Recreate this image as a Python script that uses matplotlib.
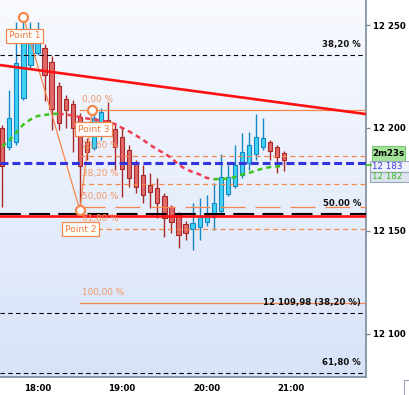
import numpy as np
import pandas as pd
import matplotlib
matplotlib.use("Agg")
import matplotlib.pyplot as plt
from matplotlib.colors import LinearSegmentedColormap
from matplotlib.patches import Rectangle
from matplotlib.transforms import blended_transform_factory

W, H = 409, 395

# 5 minute bars starting 17:35
START = "2024-01-01 17:35"
opens = [12200.0, 12190.7, 12193.2, 12214.5, 12230.6, 12236.4, 12238.8, 12232.0, 12220.4, 12214.0,
         12211.6, 12205.3, 12193.2, 12190.2, 12196.6, 12203.8, 12199.5, 12195.6, 12189.3, 12182.5,
         12177.1, 12172.3, 12170.8, 12166.9, 12161.6, 12157.7, 12153.3, 12150.9, 12151.9, 12154.3,
         12156.7, 12159.6, 12167.9, 12171.8, 12177.1, 12183.0, 12187.3, 12190.7, 12193.2, 12190.7,
         12187.8]
highs = [12201.4, 12218.4, 12251.5, 12253.9, 12251.5, 12251.5, 12240.8, 12234.9, 12222.3, 12216.0,
         12213.6, 12207.2, 12195.1, 12208.7, 12209.7, 12212.6, 12202.4, 12200.4, 12191.7, 12184.4,
         12182.0, 12178.1, 12175.7, 12168.4, 12162.5, 12159.1, 12154.8, 12163.5, 12165.9, 12167.4,
         12173.2, 12187.3, 12182.0, 12191.7, 12197.5, 12198.0, 12206.8, 12204.8, 12194.1, 12191.7,
         12188.8]
lows = [12161.6, 12189.3, 12191.7, 12213.6, 12229.1, 12235.4, 12213.1, 12199.0, 12199.0, 12200.0,
        12188.3, 12160.1, 12184.4, 12189.3, 12194.1, 12197.5, 12179.5, 12166.4, 12171.3, 12168.4,
        12163.5, 12161.1, 12156.2, 12147.0, 12148.9, 12141.6, 12145.5, 12140.7, 12145.5, 12152.3,
        12150.4, 12158.7, 12166.9, 12170.8, 12175.7, 12179.5, 12184.4, 12189.3, 12184.4, 12178.1,
        12179.1]
closes = [12181.5, 12204.8, 12231.5, 12245.1, 12242.7, 12246.6, 12225.7, 12209.2, 12202.4, 12208.7,
          12200.0, 12181.5, 12188.3, 12204.8, 12207.7, 12200.0, 12190.7, 12180.0, 12175.7, 12171.3,
          12167.4, 12168.9, 12163.5, 12156.2, 12154.3, 12148.0, 12148.9, 12153.8, 12157.2, 12157.7,
          12163.5, 12176.2, 12176.2, 12182.0, 12188.3, 12191.7, 12195.6, 12195.1, 12188.8, 12185.9,
          12184.4]
# moving average on the same bars
ma = [12191.0, 12193.9, 12197.8, 12201.7, 12204.1, 12205.8, 12206.3, 12206.8, 12206.9, 12206.5,
      12206.0, 12205.3, 12204.6, 12204.1, 12203.6, 12202.9, 12201.9, 12200.0, 12198.3, 12196.3,
      12194.1, 12191.7, 12189.5, 12187.6, 12185.4, 12182.2, 12180.0, 12178.6, 12177.4, 12175.7,
      12175.1, 12175.2, 12175.4, 12176.2, 12177.4, 12178.1, 12179.3, 12180.3, 12181.0, 12181.3,
      12181.5]

# fibonacci points
point_names = ["Point 1", "Point 2", "Point 3"]
point_times = ["17:50", "18:30", "18:39"]
point_prices = [12253.9, 12160.1, 12208.7]
fib_ratios = [0.0, 0.236, 0.382, 0.5, 0.618, 1.0]
fib_labels = ["0,00 %", "23,60 %", "38,20 %", "50,00 %", "61,80 %", "100,00 %"]

# other horizontal levels
black_levels = [12235.4, 12158.2, 12109.98, 12080.9]
black_labels = ["38,20 %", "50.00 %", "12 109,98 (38,20 %)", "61,80 %"]
support_level = 12157.2
bid_level = 12183.0
trend_times = ["17:35", "21:50"]
trend_prices = [12230.4, 12207.0]

time_ticks = ["18:00", "19:00", "20:00", "21:00"]
price_ticks = [12100, 12150, 12200, 12250]

ORANGE = "#f4874b"
ORANGE_TXT = "#f39a68"
RED_FACE, RED_EDGE = "#e06868", "#a82828"
CYAN_FACE, CYAN_EDGE = "#3fd2f2", "#1687c6"
AXIS = "#7a8ba0"

plt.rcParams["font.family"] = "DejaVu Sans"


def hours(s):
    h, m = s.split(":")
    return int(h) + int(m) / 60


t = pd.date_range(START, periods=len(opens), freq="5min")
t = np.array(t.hour + t.minute / 60.0)
o, hi, lo, c = map(np.array, (opens, highs, lows, closes))

fig = plt.figure(figsize=(W / 100, H / 100), dpi=100)
ax = fig.add_axes([0, 18 / H, 366 / W, 377 / H])
x0, x1 = 17.5567, 21.883
y0, y1 = 12079.0, 12262.15

# background gradient
cm = LinearSegmentedColormap.from_list("bg", ["#f8faff", "#d8e3f8"])
ax.imshow(np.linspace(0, 1, 256).reshape(-1, 1), extent=(x0, x1, y0, y1),
          aspect="auto", cmap=cm, zorder=0, interpolation="bicubic")

# candles
up = c >= o
wick_col = np.where(up, CYAN_EDGE, RED_EDGE)
ax.vlines(t, lo, hi, colors=wick_col, lw=1.0, zorder=2)
ax.bar(t[up], (c - o)[up], bottom=o[up], width=0.05, color=CYAN_FACE,
       edgecolor=CYAN_EDGE, linewidth=0.8, zorder=3)
ax.bar(t[~up], (o - c)[~up], bottom=c[~up], width=0.05, color=RED_FACE,
       edgecolor=RED_EDGE, linewidth=0.8, zorder=3)

# moving average, green rising / red falling
ma = np.array(ma)
rising = np.diff(ma) >= 0
i = 0
while i < len(rising):
    j = i
    while j + 1 < len(rising) and rising[j + 1] == rising[i]:
        j += 1
    ax.plot(t[i:j + 2], ma[i:j + 2], color="#3ec41e" if rising[i] else "#f03c50",
            lw=1.8, dashes=(2, 1.6), zorder=5)
    i = j + 1

# black levels
trans = blended_transform_factory(ax.transAxes, ax.transData)
for lvl, lab in zip(black_levels, black_labels):
    if lab.startswith("50"):
        ax.axhline(lvl, color="black", lw=1.5, dashes=(10, 4), zorder=4)
    else:
        ax.axhline(lvl, color="black", lw=0.8, dashes=(4, 3), zorder=4)
    ax.annotate(lab, xy=(1, lvl), xycoords=trans, xytext=(-5, 10.5),
                textcoords="offset pixels", ha="right", va="center",
                fontsize=6.2, fontweight="bold", color="#111111", zorder=9)

# fibonacci extension
pt = [hours(s) for s in point_times]
p1, p2, p3 = point_prices
for r, lab in zip(fib_ratios, fib_labels):
    lvl = p3 - r * (p1 - p2)
    if r in (0.0, 1.0):
        style = dict(ls="-")
    elif r == 0.5:
        style = dict(dashes=(20, 8))
    else:
        style = dict(dashes=(4, 3))
    ax.plot([pt[1], x1], [lvl, lvl], color=ORANGE, lw=0.9, zorder=4, **style)
    ax.annotate(lab, xy=(pt[1], lvl), xytext=(2, 10.5), textcoords="offset pixels",
                ha="left", va="center", fontsize=6.4, color=ORANGE_TXT, zorder=9)
ax.plot(pt, point_prices, color=ORANGE, lw=0.9, zorder=6)

# support, trend and bid lines
ax.axhline(support_level, color="#ff1010", lw=1.9, zorder=6)
ax.axline((hours(trend_times[0]), trend_prices[0]), (hours(trend_times[1]), trend_prices[1]),
          color="#ff1010", lw=1.9, zorder=6)
ax.axhline(bid_level, color="#3434de", lw=2.2, dashes=(2.6, 1.3), zorder=6)

# points
ax.plot(pt, point_prices, "o", ms=6.5, mfc="white", mec=ORANGE, mew=1.6, zorder=10)
for name, tx, py in zip(point_names, pt, point_prices):
    ax.annotate(name, xy=(tx, py), xytext=(1, -19), textcoords="offset pixels",
                ha="center", va="center", fontsize=6.6, color="#f07a3c", zorder=11,
                bbox=dict(boxstyle="square,pad=0.3", fc="white", ec=ORANGE, lw=0.9))

ax.set_xlim(x0, x1)
ax.set_ylim(y0, y1)
ax.set_xticks([hours(s) for s in time_ticks])
ax.set_xticklabels(time_ticks)
ax.set_yticks(price_ticks)
ax.set_yticklabels([f"{p // 1000} {p % 1000:03d}" for p in price_ticks])
ax.yaxis.tick_right()
ax.tick_params(axis="y", length=3, width=1, color=AXIS, pad=2, labelsize=6.2)
ax.tick_params(axis="x", length=0, pad=5, labelsize=6.2)
for lab in ax.get_xticklabels() + ax.get_yticklabels():
    lab.set_fontweight("bold")
for side in ("top", "left"):
    ax.spines[side].set_visible(False)
for side in ("right", "bottom"):
    ax.spines[side].set_color(AXIS)
    ax.spines[side].set_linewidth(1.2)

# price boxes on the right axis
ov = fig.add_axes([0, 0, 1, 1], zorder=5)
ov.set_xlim(0, W)
ov.set_ylim(H, 0)
ov.axis("off")
yb = H - ax.transData.transform((x0, bid_level))[1]
ov.add_patch(Rectangle((372, yb - 17), 33, 15, fc="#a6e39a", ec="#7cc47a", lw=0.8))
ov.text(388.5, yb - 9.5, "2m23s", ha="center", va="center", fontsize=6.2,
        fontweight="bold", color="black")
ov.add_patch(Rectangle((370, yb - 2), 45, 11, fc="#eef1f7", ec="#9aa6b8", lw=0.8))
ov.text(372, yb + 3.5, "12 183", ha="left", va="center", fontsize=6.3, color="#3a3ae6")
ov.add_patch(Rectangle((370, yb + 9), 45, 10, fc="#dde3ee", ec="#9aa6b8", lw=0.8))
ov.text(372, yb + 14, "12 182", ha="left", va="center", fontsize=6.3, color="#33bb22")
ov.plot([366, 371], [yb + 2, yb + 2], color="#33bb22", lw=1.2)
ov.add_patch(Rectangle((404, 380), 10, 20, fc="white", ec="#9aa6b8", lw=0.8))

fig.savefig("out.png", dpi=100, facecolor="white")
